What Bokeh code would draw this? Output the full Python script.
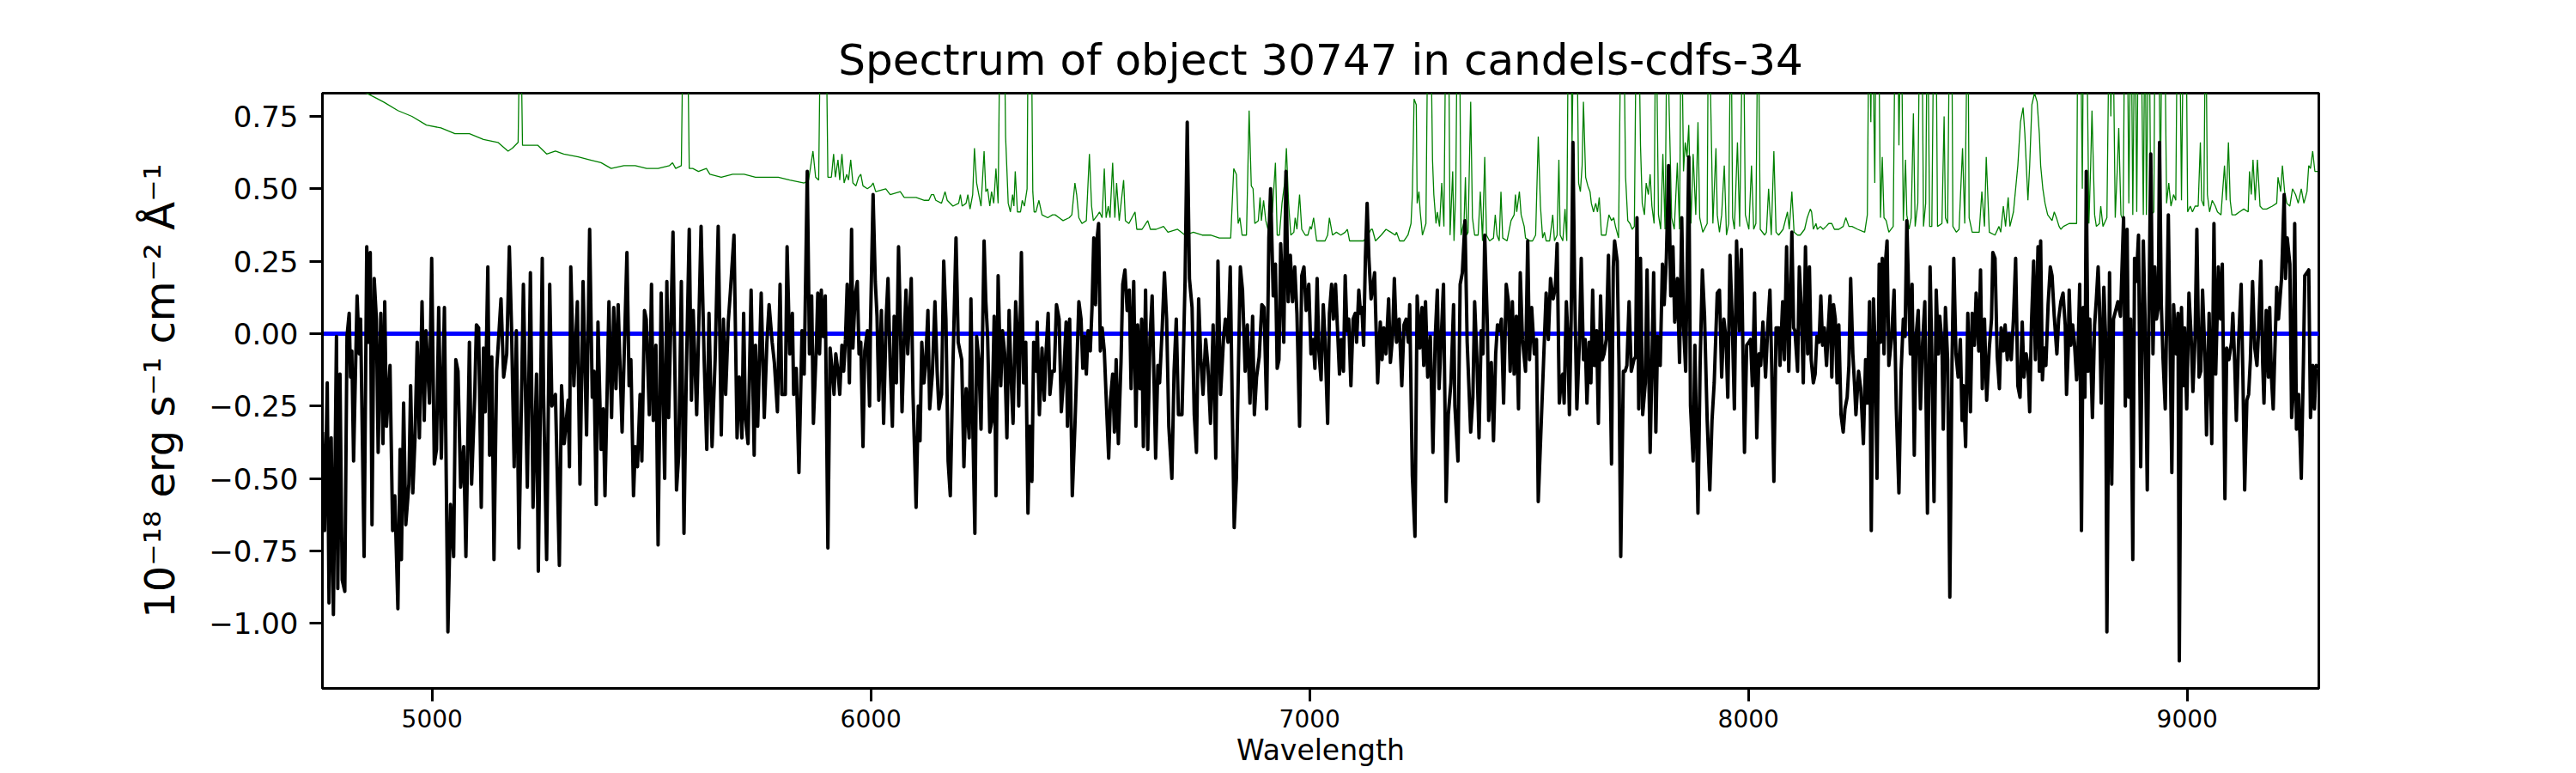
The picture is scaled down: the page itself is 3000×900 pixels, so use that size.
from bokeh.plotting import figure
from bokeh.models import Range1d, Span, FixedTicker
from bokeh.embed import file_html
from bokeh.resources import INLINE

title_text = "Spectrum of object 30747 in candels-cdfs-34"
x_label = "Wavelength"
y_label = "10\u207b\u00b9\u2078 erg s\u207b\u00b9 cm\u207b\u00b2 \u00c5\u207b\u00b9"
x_ticks = [5000, 6000, 7000, 8000, 9000]
y_ticks = [-1.0, -0.75, -0.5, -0.25, 0.0, 0.25, 0.5, 0.75]

# observed flux (black)
wave_flux = [
4750,4755,4761,4765,4770,4775,4782,4785,4790,4795,4801,4806,4811,4814,4817,4821,4829,4834,4837,4845,
4851,4855,4859,4863,4868,4873,4877,4883,4888,4892,4896,4904,4910,4915,4922,4927,4930,4935,4940,4947,
4951,4956,4961,4966,4971,4977,4982,4986,4994,4999,5005,5010,5015,5021,5028,5036,5042,5049,5054,5059,
5065,5072,5077,5085,5090,5097,5101,5106,5112,5117,5121,5127,5131,5136,5141,5147,5157,5163,5170,5176,
5181,5187,5192,5198,5208,5217,5224,5230,5238,5242,5251,5254,5261,5268,5273,5281,5290,5295,5301,
5310,5313,5316,5323,5331,5337,5344,5352,5359,5365,5369,5374,5378,5385,5390,5394,5403,5409,5414,5419,
5424,5433,5444,5449,5453,5459,5463,5468,5474,5478,5484,5488,5495,5500,5504,5510,5515,5522,5530,5535,
5539,5549,5557,5562,5568,5574,5579,5586,5591,5595,5603,5613,5620,5626,5631,5638,5645,5652,5659,5664,
5669,5675,5680,5688,5695,5700,5706,5710,5714,5720,5727,5734,5737,5742,5750,5757,5763,5768,5775,5780,
5787,5793,5797,5805,5809,5815,5821,5824,5830,5836,5843,5848,5855,5860,5865,5869,
5876,5879,5883,5887,5891,5896,5902,5907,5912,5916,5920,5925,5929,5934,5938,5942,5946,5951,5956,5959,
5964,5969,5973,5977,5982,5986,5992,5997,5999,6005,6010,6014,6018,6024,6029,6035,6039,6044,6049,6053,
6058,6063,6067,6071,6075,6080,6084,6092,6096,6103,6108,6112,6116,6121,6125,6130,6134,6140,6146,6151,
6155,6161,6166,6171,6176,6181,6187,6194,6199,6207,6212,6217,6224,6228,6233,6237,6241,6246,6251,6258,
6262,6266,6271,6276,6281,6285,6290,6296,6300,6305,6310,6315,6320,6324,6330,6333,6337,6343,6348,6353,
6358,6362,6367,6371,6377,6379,6384,6390,6395,6399,6404,6408,6413,6418,6423,6429,6434,6439,
6445,6448,6453,6459,6465,6469,6474,6479,6483,6487,6491,6495,6500,6504,6508,6512,6515,6519,6523,6527,
6532,6537,6542,6546,6551,6555,6559,6564,6570,6574,6579,6584,6589,6593,6599,6604,6608,6613,6617,6621,
6626,6631,6636,6641,6645,6649,6654,6658,6664,6669,6674,6679,6686,6691,6696,6701,6709,6716,6721,6726,
6732,6737,6742,6747,6752,6757,6763,6768,6774,6780,6786,6791,6797,6804,6808,6814,6819,6824,6828,6833,
6838,6842,6847,6853,6858,6864,6870,6874,6879,6885,6891,6896,6902,6907,6911,6917,6922,6926,6930,6934,
6937,6941,6946,6951,6956,6961,6966,6971,6977,6982,6987,6992,6998,7003,7008,
7012,7017,7021,7026,7031,7035,7041,7045,7050,7054,7059,7063,7068,7072,7077,7081,7085,7089,7094,7099,
7104,7107,7112,7116,7119,7123,7127,7131,7135,7140,7143,7148,7151,7155,7161,7165,7169,7174,7180,7184,
7189,7193,7198,7204,7210,7215,7220,7225,7228,7234,7240,7245,7251,7256,7260,7264,7269,7275,7281,7286,
7291,7295,7300,7305,7311,7316,7322,7328,7331,7338,7343,7348,7354,7359,7367,7372,7376,7381,7386,7391,
7395,7399,7405,7408,7414,7419,7424,7428,7433,7437,7442,7448,7453,7457,7462,7466,7471,7476,7480,7485,
7492,7497,7501,7506,7512,7517,7521,7528,7533,7539,7544,7549,7555,7560,7564,7569,7574,
7577,7580,7585,7588,7592,7596,7600,7604,7609,7615,7619,7624,7628,7632,7637,7641,7645,7649,7654,7658,
7663,7667,7671,7676,7681,7688,7692,7695,7701,7705,7709,7715,7719,7723,7728,7733,7739,7743,7746,7750,
7754,7759,7765,7769,7776,7780,7784,7789,7793,7799,7804,7808,7813,7818,7823,7828,7832,7838,7843,7848,
7852,7857,7864,7868,7874,7878,7885,7890,7895,7900,7906,7912,7917,7922,7929,7934,7939,7944,7949,7953,
7958,7963,7968,7973,7979,7984,7991,7996,8001,8005,8009,8014,8019,8024,8028,8033,8039,8044,8049,8053,
8058,8063,8069,8072,8078,8082,8087,8092,8099,8103,8106,8112,8116,8121,8125,8130,8135,8139,8143,
8148,8152,8156,8161,8165,8169,8173,8178,8182,8186,8190,8194,8198,8202,8206,8211,8216,8220,8225,8229,
8233,8238,8242,8245,8251,8256,8262,8267,8271,8276,8280,8285,8289,8293,8298,8301,8305,8309,8313,8316,
8320,8326,8332,8337,8343,8348,8353,8357,8361,8365,8369,8373,8378,8382,8387,8392,8397,8402,8408,8414,
8418,8423,8428,8433,8436,8441,8444,8449,8454,8459,8464,8468,8473,8478,8483,8487,8490,8495,8500,8506,
8510,8515,8519,8525,8529,8533,8538,8543,8549,8554,8557,8562,8567,8572,8576,8581,8585,8590,8594,8599,
8604,8609,8614,8619,8624,8628,8633,8637,8641,8645,8650,8654,8660,8663,8666,8670,8674,8678,8683,8688,
8692,8697,8703,8707,
8712,8717,8722,8725,8729,8731,8735,8739,8743,8748,8751,8755,8759,8763,8767,8770,8774,8778,8784,8789,
8793,8797,8800,8804,8810,8814,8817,8823,8828,8832,8837,8842,8848,8855,8859,8863,8867,8871,8876,8880,
8884,8889,8894,8900,8904,8909,8914,8917,8922,8926,8930,8934,8937,8941,8945,8950,8957,8961,8965,8969,
8975,8979,8982,8987,8991,8994,8999,9004,9009,9013,9018,9022,9027,9031,9035,9041,9044,9050,9056,9061,
9065,9071,9076,9080,9086,9090,9095,9101,9104,9108,9112,9117,9123,9127,9131,9136,9140,9144,9149,9154,
9159,9163,9168,9172,9175,9180,9185,9188,9192,9196,9200,9204,9208,9215,9221,9224,9228,9234,9238,9241,
9245,9249,9254,9260,9265,9268,9273,9277,9281,9286,9290,9294,9298]
flux = [
-0.34,-0.68,-0.17,-0.93,-0.36,-0.97,-0.01,-0.88,-0.14,-0.85,-0.89,-0.01,0.07,-0.15,-0.06,-0.44,0.13,-0.07,0.05,-0.77,
0.30,-0.03,0.28,-0.66,0.19,0.05,-0.41,0.07,-0.38,0.11,-0.32,-0.11,-0.68,-0.56,-0.95,-0.40,-0.78,-0.24,-0.66,-0.52,
-0.18,-0.55,-0.36,-0.03,-0.36,0.11,-0.30,0.01,-0.24,0.26,-0.45,-0.40,0.09,-0.43,0.09,-1.03,-0.59,-0.77,-0.09,-0.13,
-0.53,-0.39,-0.77,-0.03,-0.52,-0.22,0.03,0.02,-0.60,-0.05,-0.27,0.23,-0.42,-0.08,-0.78,-0.13,0.12,-0.15,-0.07,0.30,
0.02,-0.46,0.01,-0.74,0.17,-0.53,0.21,-0.60,-0.14,-0.82,0.26,-0.21,-0.78,0.17,-0.25,-0.21,-0.80,-0.18,-0.38,
-0.23,-0.46,0.23,-0.18,0.11,-0.52,0.18,-0.35,0.36,-0.22,-0.13,-0.59,0.04,-0.40,-0.26,-0.56,0.11,-0.29,0.09,-0.19,
0.10,-0.34,0.28,-0.18,-0.09,-0.56,-0.39,-0.46,-0.21,-0.44,0.08,0.05,-0.28,0.17,-0.30,-0.04,-0.73,0.14,-0.50,0.18,
-0.29,0.35,-0.54,-0.42,0.18,-0.69,-0.17,0.36,-0.23,0.08,-0.28,0.37,-0.09,-0.40,0.07,-0.39,-0.09,0.37,-0.35,0.05,
-0.21,0.04,0.15,0.34,-0.36,-0.15,-0.36,0.07,-0.29,-0.38,0.15,-0.42,-0.04,-0.32,0.14,-0.29,-0.03,0.10,-0.03,-0.10,
-0.27,0.17,-0.21,-0.21,0.30,-0.07,0.07,-0.21,-0.12,-0.48,0.01,-0.14,0.56,-0.07,0.13,-0.31,
-0.03,0.14,-0.07,0.15,-0.01,0.13,-0.74,-0.05,-0.13,-0.21,-0.07,-0.13,-0.21,-0.04,-0.13,-0.02,0.17,-0.17,0.36,-0.05,
0.13,0.18,-0.07,-0.03,-0.39,-0.06,0.01,-0.25,0.02,0.48,0.18,0.06,-0.23,0.08,-0.31,0.06,0.19,-0.11,-0.32,0.06,
-0.17,0.30,0.05,-0.27,-0.06,0.15,-0.07,0.19,-0.21,-0.60,-0.25,-0.37,-0.03,-0.17,-0.10,0.08,-0.26,-0.14,0.11,-0.13,
-0.26,-0.21,0.25,0.05,-0.44,-0.56,-0.11,0.33,-0.03,-0.09,-0.46,-0.19,-0.36,0.12,-0.38,-0.69,-0.01,-0.09,-0.33,0.32,
0.11,-0.01,-0.34,-0.30,0.06,-0.56,0.20,-0.18,0.01,-0.07,-0.36,0.08,-0.17,-0.31,0.11,0.02,-0.25,0.28,-0.17,-0.03,
-0.62,-0.32,-0.51,-0.03,-0.13,0.04,-0.28,-0.05,-0.23,-0.07,0.07,-0.21,-0.13,-0.13,0.10,0.05,-0.27,-0.16,
0.04,-0.32,0.05,-0.56,-0.32,-0.13,0.11,0.05,-0.12,-0.01,-0.14,0.01,-0.06,0.09,0.33,0.10,0.32,0.38,-0.06,0.02,
-0.06,-0.25,-0.43,-0.23,-0.14,-0.34,-0.09,-0.38,-0.10,0.17,0.22,0.08,0.15,-0.19,0.18,-0.32,0.03,-0.19,0.05,-0.39,
0.15,-0.40,-0.02,0.13,-0.14,-0.43,-0.11,-0.17,0.02,0.21,0.05,-0.32,-0.50,-0.13,0.05,-0.28,-0.28,0.18,0.73,0.19,
0.09,-0.28,-0.41,0.12,-0.09,-0.21,-0.02,-0.11,-0.31,0.03,-0.43,0.25,-0.21,-0.01,0.05,-0.03,0.23,-0.29,-0.67,-0.50,
-0.09,0.23,0.15,-0.13,0.03,-0.24,0.06,-0.28,-0.15,-0.08,0.10,0.09,-0.26,0.33,0.50,0.13,0.24,-0.12,-0.09,0.31,
0.19,-0.03,0.56,0.11,0.27,0.11,0.23,0.07,-0.32,0.20,0.23,0.08,0.17,-0.07,-0.02,
-0.12,0.19,-0.06,-0.16,0.10,-0.02,-0.31,0.07,0.17,0.05,0.17,0.03,-0.14,-0.02,-0.13,0.20,0.01,0.05,-0.18,0.05,
0.07,-0.03,0.15,0.07,0.09,-0.04,0.26,0.45,0.26,0.12,0.15,0.21,0.04,-0.17,0.04,-0.09,0.02,-0.07,0.12,-0.10,
-0.01,0.19,-0.03,0.05,-0.18,0.03,0.05,-0.03,0.10,-0.49,-0.70,0.13,-0.05,0.09,-0.11,0.11,-0.15,-0.01,-0.41,-0.02,
0.15,-0.19,-0.01,0.17,-0.58,-0.28,-0.17,0.10,-0.25,-0.44,0.17,0.21,0.39,-0.03,-0.34,-0.22,0.11,-0.08,-0.36,0.01,
-0.07,0.34,0.03,-0.30,-0.10,-0.37,-0.07,0.03,0.01,0.05,-0.24,0.17,0.11,-0.13,0.11,-0.14,0.06,-0.26,0.21,-0.02,
-0.13,0.32,-0.09,0.09,-0.07,-0.02,-0.58,-0.30,-0.10,0.14,-0.02,0.19,0.12,0.16,0.31,-0.24,-0.15,
-0.14,-0.24,0.11,0.01,-0.28,0.05,0.66,0.15,-0.26,-0.02,0.26,-0.09,-0.02,-0.24,-0.03,-0.17,0.15,-0.11,0.01,-0.31,
0.13,-0.09,-0.07,-0.02,0.27,-0.45,0.23,0.32,0.25,-0.11,-0.77,-0.13,-0.13,-0.11,0.11,-0.13,-0.09,-0.08,0.40,-0.26,
0.26,-0.28,-0.17,0.22,-0.41,-0.11,0.21,-0.34,-0.01,-0.11,0.24,0.10,0.26,0.58,0.13,0.30,0.04,0.19,-0.10,0.40,
0.03,-0.13,0.61,-0.25,-0.44,-0.04,-0.62,-0.10,0.22,0.06,-0.30,-0.54,-0.30,-0.17,0.14,0.15,-0.15,0.05,-0.02,-0.22,
0.27,0.05,-0.26,0.32,0.01,0.29,-0.41,-0.04,-0.03,-0.02,-0.18,0.14,-0.36,-0.07,-0.11,0.04,-0.15,0.02,0.15,-0.11,
-0.51,0.02,0.02,-0.11,0.11,-0.09,0.30,-0.13,0.35,0.02,0.01,-0.13,0.23,0.07,-0.17,0.30,-0.07,0.23,-0.09,
-0.17,-0.14,-0.01,-0.03,0.13,-0.04,0.02,-0.11,0.02,0.13,-0.15,0.10,0.05,-0.17,0.03,-0.28,-0.34,-0.26,-0.22,-0.11,
0.19,-0.07,-0.18,-0.28,-0.13,-0.19,-0.38,-0.09,-0.24,0.11,-0.68,0.12,-0.06,-0.50,0.24,-0.03,0.26,-0.07,0.26,0.32,
-0.11,-0.02,0.15,-0.26,-0.55,-0.13,0.05,-0.01,0.39,0.15,-0.07,0.17,-0.42,-0.01,0.08,-0.26,-0.03,0.11,-0.62,0.23,
-0.07,-0.58,0.15,-0.07,0.06,-0.03,-0.33,0.09,-0.09,-0.91,-0.10,0.26,-0.07,-0.15,-0.02,-0.30,-0.18,-0.39,0.07,-0.27,
0.07,-0.04,0.14,-0.06,0.22,-0.19,0.05,-0.23,-0.05,0.05,0.28,0.26,-0.08,-0.19,0.02,-0.06,0.03,-0.09,0.00,-0.09,
0.05,0.26,-0.18,-0.22,0.04,-0.15,-0.07,-0.11,-0.27,0.03,0.25,-0.09,0.30,-0.13,0.32,-0.16,-0.05,-0.11,0.10,0.23,
0.20,0.06,-0.07,0.05,
0.11,0.14,0.03,-0.21,-0.05,0.15,-0.04,0.03,-0.03,-0.16,-0.07,0.17,-0.68,0.09,-0.22,0.56,-0.13,0.05,-0.29,0.03,
0.12,0.23,0.10,-0.24,0.16,-0.01,-1.03,0.21,-0.52,0.05,0.08,0.11,0.06,0.40,-0.25,0.36,-0.22,0.05,-0.78,0.26,
0.18,0.34,-0.46,0.32,0.05,-0.54,0.23,0.62,-0.07,0.23,0.05,0.09,0.66,0.10,-0.09,-0.26,0.41,-0.03,-0.48,0.10,
-0.07,0.07,-1.13,0.09,-0.18,0.02,-0.26,0.14,-0.01,-0.20,-0.01,0.36,-0.15,-0.13,0.15,-0.10,-0.35,0.07,-0.38,0.38,
-0.14,0.23,0.05,0.24,-0.57,-0.05,-0.09,-0.03,0.07,-0.09,-0.30,-0.03,0.17,-0.15,-0.54,-0.23,-0.21,-0.09,0.18,-0.05,
-0.11,0.02,0.25,-0.10,-0.24,0.08,-0.15,0.09,-0.15,-0.26,-0.05,0.16,0.05,0.19,0.48,0.19,0.33,0.24,-0.29,-0.22,
0.38,-0.33,-0.21,-0.50,-0.09,0.20,0.21,0.22,-0.29,-0.11,-0.26,-0.11,-0.12]

# noise / sky spectrum (green); values of 1.2 are spikes running off the top
wave_noise = [
4750,4800,4857,4889,4922,4954,4987,5020,5052,5085,5117,5150,5173,5183,5196,5201,5206,5222,5241,5261,
5281,5300,5333,5359,5385,5408,5437,5463,5489,5515,5541,5548,5555,5568,5573,5581,5586,5594,5607,5625,
5633,5659,5685,5711,5737,5763,5789,5815,5848,5858,5868,5874,5881,5886,5897,5902,5910,5915,5919,5925,
5929,5934,5939,5945,5949,5954,5959,5966,5972,5977,5982,5992,6001,6005,6011,6034,6044,6067,6076,6103,
6122,6132,6138,6143,6148,6161,6169,6174,6187,6200,6204,6208,6217,6221,6226,6232,6236,6241,6246,6251,
6258,6262,6266,6271,6275,6280,6285,6290,6295,6303,6307,6313,6318,6323,6326,6329,6334,6341,6345,6350,
6356,6359,6365,6369,6372,6376,6383,6390,6403,6414,6420,6429,6438,6452,6458,6465,6469,6474,6481,6491,
6498,6503,6507,6517,6521,6527,6532,6536,6541,6545,6551,6556,6560,6566,6571,6576,6580,6588,6595,6602,
6606,6618,6631,6637,6650,6667,6677,6699,6716,6735,6755,6774,6794,6820,6827,6833,6837,6841,6846,6856,
6862,6867,6871,6875,6883,6887,6890,6895,6900,6905,6910,6915,6922,6926,6931,6937,6943,6947,6952,6957,
6964,6967,6971,6977,6982,6990,6996,7001,7004,7009,7016,7022,7035,7041,7045,7052,7061,7071,7081,7086,
7091,7107,7123,7133,7140,7143,7150,7163,7174,7185,7195,7198,7205,7215,7224,7231,7234,7238,7243,7245,
7249,7252,7257,7265,7270,7275,7280,7283,7288,7291,7296,7301,7306,7311,7316,7320,7326,7329,7333,7337,
7341,7345,7352,7355,7358,7361,7367,7371,7376,7384,7389,7394,7399,7403,7410,7419,7423,7427,7432,7436,
7440,7450,7459,7466,7469,7472,7478,7482,7489,7492,7502,7508,7515,7521,7526,7531,7535,7539,7547,7554,
7558,7564,7568,7571,7577,7582,7586,7590,7595,7598,7603,7608,7613,7617,7621,7624,7629,7634,7639,7642,
7647,7652,7656,7660,7665,7675,7682,7688,7693,7697,7704,7710,7715,7720,7725,7730,7735,7740,7745,7749,
7754,7758,7763,7767,7772,7776,7780,7785,7789,7795,7800,7805,7810,7815,7819,7825,7831,7838,7843,7847,
7852,7856,7860,7864,7869,7874,7880,7885,7889,7896,7906,7909,7915,7919,7926,7929,7934,7939,7945,7950,
7955,7960,7964,7968,7975,7980,7988,7993,8001,8007,8012,8017,8022,8027,8037,8041,8046,8052,8058,8063,
8069,8079,8089,8093,8099,8104,8112,8118,8128,8134,8141,8144,8148,8154,8157,8164,8170,8177,8183,8190,
8196,8206,8216,8222,8229,8236,8249,8265,8271,8275,8279,8282,8288,8291,8296,8301,8305,8309,8314,8320,
8330,8335,8340,8343,8348,8353,8358,8361,8366,8371,8376,8380,8386,8391,8395,8399,8404,8408,8413,8418,
8423,8427,8431,8441,8446,8449,8454,8459,8463,8466,8474,8480,8488,8493,8500,8503,8510,8526,8532,8538,
8542,8549,8562,8571,8575,8581,8586,8592,8596,8604,8614,8620,8626,8630,8637,8641,8646,8652,8658,8663,
8666,8671,8676,8682,8692,8697,8702,8708,8712,8718,8731,8738,8748,8751,8756,8761,8764,8770,8776,8780,
8783,8789,8793,8800,8803,8808,8817,8823,8826,8830,8836,8841,8844,8849,8854,8858,8863,8867,8872,8876,
8881,8885,8889,8894,8900,8904,8907,8913,8917,8924,8927,8934,8939,8943,8948,8953,8958,8963,8969,8974,
8978,8982,8987,8992,8997,9001,9007,9012,9018,9025,9030,9033,9038,9042,9046,9051,9057,9064,9069,9077,
9085,9089,9094,9098,9102,9110,9119,9129,9139,9142,9146,9150,9155,9160,9166,9172,9181,9194,9204,9207,
9213,9217,9222,9227,9234,9240,9247,9253,9260,9266,9273,9277,9281,9286,9291,9297]
noise = [
0.92,0.87,0.825,0.80,0.77,0.75,0.72,0.71,0.69,0.69,0.67,0.66,0.63,0.64,0.66,1.2,0.65,0.65,0.65,0.62,
0.63,0.62,0.61,0.60,0.59,0.57,0.58,0.58,0.57,0.57,0.58,0.59,0.57,0.58,1.2,1.2,0.57,0.57,0.56,0.57,
0.55,0.54,0.55,0.55,0.54,0.54,0.54,0.53,0.52,0.53,0.63,0.54,0.53,1.2,1.2,0.54,0.54,0.62,0.54,0.60,
0.53,0.62,0.52,0.55,0.53,0.60,0.52,0.51,0.54,0.55,0.51,0.50,0.51,0.52,0.49,0.50,0.48,0.49,0.47,0.47,
0.46,0.46,0.48,0.48,0.46,0.45,0.49,0.46,0.44,0.45,0.48,0.44,0.45,0.48,0.43,0.48,0.64,0.52,0.48,0.44,
0.63,0.49,0.50,0.44,0.49,0.45,0.57,0.45,1.2,1.2,0.68,0.45,0.42,0.48,0.44,0.56,0.42,0.42,0.46,0.44,
0.50,1.2,1.2,0.49,0.42,0.42,0.46,0.41,0.40,0.41,0.41,0.40,0.39,0.40,0.41,0.52,0.48,0.40,0.38,0.39,
0.62,0.44,0.39,0.41,0.42,0.40,0.57,0.40,0.44,0.40,0.59,0.40,0.52,0.39,0.46,0.53,0.39,0.38,0.40,0.42,
0.36,0.36,0.39,0.36,0.36,0.37,0.35,0.36,0.34,0.35,0.34,0.34,0.33,0.33,0.57,0.55,0.38,0.40,0.34,0.34,
0.77,0.51,0.50,0.38,0.39,0.47,0.39,0.46,0.39,0.36,0.39,0.42,0.59,0.34,0.34,0.45,0.52,0.64,0.45,0.34,
0.35,0.40,0.36,0.48,0.36,0.34,0.34,0.37,0.36,0.40,0.32,0.32,0.32,0.34,0.40,0.34,0.35,0.34,0.35,0.36,
0.32,0.32,0.32,0.34,0.36,0.36,0.32,0.34,0.36,0.35,0.34,0.35,0.32,0.32,0.34,0.38,0.48,0.81,0.79,0.45,
0.49,0.42,0.34,0.38,1.2,1.2,0.60,0.48,0.38,0.42,0.37,0.52,0.37,1.2,1.2,0.34,0.56,0.32,0.49,1.2,
1.2,0.34,0.39,0.54,0.34,0.35,0.80,0.40,0.34,0.34,0.49,0.32,0.61,0.34,0.32,0.33,0.41,0.34,0.32,0.49,
0.33,0.32,0.39,0.41,0.48,0.42,0.49,0.41,0.37,0.33,0.32,0.32,0.34,0.68,0.44,0.33,0.35,0.32,0.32,0.41,
0.32,0.34,0.60,0.34,0.32,0.43,0.32,1.2,1.2,0.66,1.2,1.2,0.52,0.49,0.58,0.80,0.54,0.51,0.49,0.45,
0.42,0.45,0.42,0.47,0.34,0.34,0.41,0.39,0.40,0.37,0.33,1.2,1.2,0.54,0.39,0.38,0.36,0.37,1.2,1.2,
0.65,0.45,0.41,0.52,0.48,0.55,0.44,0.38,1.2,0.41,0.36,0.62,0.36,1.2,0.80,0.40,0.36,0.59,0.36,1.2,
0.56,0.66,0.61,0.72,0.38,0.62,0.41,0.73,0.40,0.35,0.38,1.2,0.72,0.38,0.64,0.41,0.35,0.41,0.58,0.34,
0.38,1.2,0.40,0.36,0.66,0.37,1.2,0.41,0.36,0.58,0.36,0.38,1.2,0.36,0.34,0.35,0.50,0.34,0.63,0.35,
0.34,0.36,0.42,0.36,0.49,0.35,0.34,0.34,0.36,0.40,0.43,0.42,0.36,0.38,0.36,0.37,0.36,0.37,0.38,0.38,
0.36,0.36,0.37,0.40,0.37,0.37,0.36,0.35,0.41,1.2,0.73,1.2,0.52,1.2,1.2,0.40,0.61,0.40,0.39,0.35,
0.37,1.2,1.2,0.65,1.2,0.39,0.60,0.41,0.36,0.40,0.76,0.37,0.45,1.2,1.2,0.37,0.45,1.2,0.37,0.37,
1.2,1.2,0.37,0.38,0.75,0.40,0.38,1.2,1.2,0.37,0.35,0.36,0.64,0.38,1.2,0.40,0.35,0.35,0.49,0.37,
0.61,0.35,0.34,0.37,0.35,0.44,0.37,0.47,0.37,0.42,0.58,0.73,0.78,0.69,0.46,0.58,0.79,0.83,0.80,0.69,
0.58,0.50,0.45,0.41,0.39,0.42,0.40,0.37,0.36,0.37,0.38,0.38,0.38,1.2,1.2,0.50,1.2,1.2,0.38,0.58,
0.77,0.41,0.37,0.38,0.44,0.37,0.40,1.2,0.75,1.2,0.40,0.58,0.71,0.41,0.39,1.2,1.2,0.45,1.2,0.41,
1.2,0.42,1.2,1.2,0.41,1.2,0.41,1.2,0.41,0.42,1.2,1.2,0.50,1.2,1.2,0.45,0.52,0.44,0.48,0.46,
1.2,1.2,0.46,1.2,1.2,0.42,0.44,0.42,0.44,0.44,0.66,0.46,0.44,1.2,0.48,0.42,0.46,0.44,0.42,0.41,
0.58,0.46,0.66,0.46,0.41,0.41,0.42,0.43,0.42,0.56,0.48,0.60,0.46,0.60,0.44,0.43,0.43,0.44,0.45,0.54,
0.49,0.58,0.49,0.45,0.44,0.50,0.48,0.45,0.50,0.45,0.49,0.58,0.57,0.63,0.56,0.56]

FONT = "DejaVu Sans"

p = figure(width=2992, height=900, output_backend="svg", toolbar_location=None,
           x_range=Range1d(4750, 9300), y_range=Range1d(-1.225, 0.83),
           min_border_left=375, min_border_right=292, min_border_top=108, min_border_bottom=99,
           background_fill_color="white", border_fill_color="white")

p.title.text = title_text
p.title.align = "center"
p.title.text_font = FONT
p.title.text_font_size = "50px"
p.title.text_font_style = "normal"
p.title.text_color = "black"
p.title.standoff = 20

p.xgrid.visible = False
p.ygrid.visible = False
p.outline_line_color = "black"
p.outline_line_width = 3
p.outline_line_alpha = 1.0

for ax in (p.xaxis[0], p.yaxis[0]):
    ax.axis_line_color = "black"
    ax.axis_line_width = 3
    ax.major_tick_line_color = "black"
    ax.major_tick_line_width = 3
    ax.major_tick_in = 0
    ax.major_tick_out = 15
    ax.minor_tick_line_color = None
    ax.major_label_text_font = FONT
    ax.major_label_text_color = "black"
    ax.axis_label_text_font = FONT
    ax.axis_label_text_font_style = "normal"
    ax.axis_label_text_color = "black"

p.xaxis.ticker = FixedTicker(ticks=x_ticks)
p.yaxis.ticker = FixedTicker(ticks=y_ticks)
p.yaxis.major_label_overrides = {t: ("%.2f" % t).replace("-", "\u2212") for t in y_ticks}
p.xaxis.major_label_overrides = {t: "%d" % t for t in x_ticks}
p.xaxis.major_label_text_font_size = "28px"
p.yaxis.major_label_text_font_size = "34px"
p.xaxis.major_label_standoff = 9
p.yaxis.major_label_standoff = 13
p.xaxis.axis_label = x_label
p.yaxis.axis_label = y_label
p.xaxis.axis_label_text_font_size = "33px"
p.yaxis.axis_label_text_font_size = "48px"
p.xaxis.axis_label_standoff = 4
p.yaxis.axis_label_standoff = 26

p.line(wave_noise, noise, line_color="#008000", line_width=1.3)
p.add_layout(Span(location=0, dimension="width", line_color="#0000ff", line_width=5, level="underlay"))
p.line(wave_flux, flux, line_color="black", line_width=4, line_join="round")

open("out.html", "w").write(file_html(p, INLINE))
